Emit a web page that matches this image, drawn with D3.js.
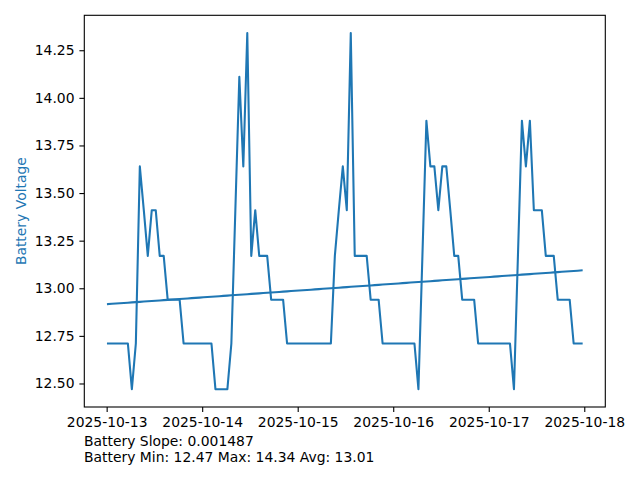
<!DOCTYPE html>
<html>
<head>
<meta charset="utf-8">
<script src="https://cdn.jsdelivr.net/npm/d3@7"></script>
<style>
  html, body { margin: 0; padding: 0; background: #fff; }
  svg { display: block; font-family: "DejaVu Sans", sans-serif; }
</style>
</head>
<body>
<svg id="chart" width="640" height="480"></svg>
<script>
// ---- data (hourly readings starting 2025-10-13 00:20) ----
const startTime = "2025-10-13T00:20:00";
const voltages = [
  12.71, 12.71, 12.71, 12.71, 12.71, 12.71, 12.47, 12.71, 13.64, 13.41,
  13.17, 13.41, 13.41, 13.17, 13.17, 12.94, 12.94, 12.94, 12.94, 12.71,
  12.71, 12.71, 12.71, 12.71, 12.71, 12.71, 12.71, 12.47, 12.47, 12.47,
  12.47, 12.71, 13.41, 14.11, 13.64, 14.34, 13.17, 13.41, 13.17, 13.17,
  13.17, 12.94, 12.94, 12.94, 12.94, 12.71, 12.71, 12.71, 12.71, 12.71,
  12.71, 12.71, 12.71, 12.71, 12.71, 12.71, 12.71, 13.17, 13.41, 13.64,
  13.41, 14.34, 13.17, 13.17, 13.17, 13.17, 12.94, 12.94, 12.94, 12.71,
  12.71, 12.71, 12.71, 12.71, 12.71, 12.71, 12.71, 12.71, 12.47, 13.17,
  13.88, 13.64, 13.64, 13.41, 13.64, 13.64, 13.41, 13.17, 13.17, 12.94,
  12.94, 12.94, 12.94, 12.71, 12.71, 12.71, 12.71, 12.71, 12.71, 12.71,
  12.71, 12.71, 12.47, 13.17, 13.88, 13.64, 13.88, 13.41, 13.41, 13.41,
  13.17, 13.17, 13.17, 12.94, 12.94, 12.94, 12.94, 12.71, 12.71, 12.71
];
const slopeValue = 0.001487; // per sample, as stated on the chart
const xTickLabels = ["2025-10-13", "2025-10-14", "2025-10-15", "2025-10-16", "2025-10-17", "2025-10-18"];
const yTickValues = [12.50, 12.75, 13.00, 13.25, 13.50, 13.75, 14.00, 14.25];
const yLabel = "Battery Voltage";

// ---- build series ----
const t0 = new Date(startTime);
const HOUR = 3600 * 1000;
const series = voltages.map((v, i) => ({ t: new Date(t0.getTime() + i * HOUR), i, v }));

// trend line through the mean with the stated slope
const mx = d3.mean(series, d => d.i), my = d3.mean(series, d => d.v);
const intercept = my - slopeValue * mx;
const trend = series.map(d => ({ t: d.t, v: intercept + slopeValue * d.i }));

const vMin = d3.min(voltages), vMax = d3.max(voltages), vAvg = d3.mean(voltages);
const slopeText = `Battery Slope: ${slopeValue.toFixed(6)}`;
const statsText = `Battery Min: ${vMin.toFixed(2)} Max: ${vMax.toFixed(2)} Avg: ${vAvg.toFixed(2)}`;

// ---- layout ----
const W = 640, H = 480;
const margin = { left: 84.3, right: 34.7, top: 15.3, bottom: 73 };
const iw = W - margin.left - margin.right;
const ih = H - margin.top - margin.bottom;
const fs = 13.9;
const blue = "#1f77b4";

const tExt = d3.extent(series, d => d.t.getTime());
const tPad = (tExt[1] - tExt[0]) * 0.05;
const x = d3.scaleTime().domain([new Date(tExt[0] - tPad), new Date(tExt[1] + tPad)]).range([0, iw]);
const vPad = (vMax - vMin) * 0.05;
const y = d3.scaleLinear().domain([vMin - vPad, vMax + vPad]).range([ih, 0]);

const svg = d3.select("#chart");
svg.append("rect").attr("width", W).attr("height", H).attr("fill", "#fff");
const g = svg.append("g").attr("transform", `translate(${margin.left},${margin.top})`);

const line = d3.line().x(d => x(d.t)).y(d => y(d.v));
g.append("path").datum(series).attr("d", line)
  .attr("fill", "none").attr("stroke", blue).attr("stroke-width", 2.08)
  .attr("stroke-linejoin", "round").attr("stroke-linecap", "square");
g.append("path").datum(trend).attr("d", line)
  .attr("fill", "none").attr("stroke", blue).attr("stroke-width", 2.08)
  .attr("stroke-linecap", "square");

// frame
g.append("rect").attr("x", 0).attr("y", 0).attr("width", iw).attr("height", ih)
  .attr("fill", "none").attr("stroke", "#000").attr("stroke-width", 1.1);

// axes
const xTicks = xTickLabels.map(s => new Date(s + "T00:00:00"));
const xAxis = d3.axisBottom(x).tickValues(xTicks).tickFormat((d, i) => xTickLabels[i])
  .tickSize(4.9).tickPadding(4.9);
const gx = g.append("g").attr("transform", `translate(0,${ih})`).call(xAxis);
const yAxis = d3.axisLeft(y).tickValues(yTickValues).tickFormat(d3.format(".2f"))
  .tickSize(4.9).tickPadding(4.9);
const gy = g.append("g").call(yAxis);
[gx, gy].forEach(ax => {
  ax.select(".domain").remove();
  ax.selectAll(".tick line").attr("stroke", "#000").attr("stroke-width", 1.1);
  ax.selectAll(".tick text").attr("fill", "#000").style("font-size", fs + "px")
    .style("font-family", "'DejaVu Sans', sans-serif");
});

// y label
svg.append("text")
  .attr("transform", `translate(${26},${margin.top + ih / 2}) rotate(-90)`)
  .attr("text-anchor", "middle")
  .attr("fill", blue).style("font-size", fs + "px")
  .text(yLabel);

// stats text
svg.append("text").attr("x", 84).attr("y", 446).attr("fill", "#000")
  .style("font-size", fs + "px").text(slopeText);
svg.append("text").attr("x", 84).attr("y", 462).attr("fill", "#000")
  .style("font-size", fs + "px").text(statsText);
</script>
</body>
</html>
